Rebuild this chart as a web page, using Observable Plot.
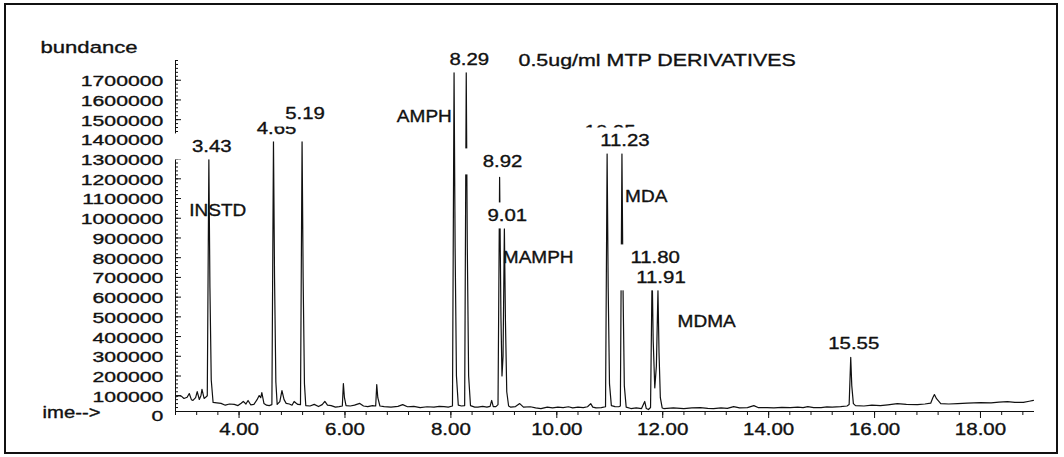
<!DOCTYPE html>
<html><head><meta charset="utf-8">
<script src="https://cdn.jsdelivr.net/npm/d3@7"></script>
<script src="https://cdn.jsdelivr.net/npm/@observablehq/plot@0.6"></script>
<style>
html,body{margin:0;padding:0;background:#fff;}
#chart{position:relative;width:1064px;height:457px;}
</style></head><body><div id="chart"></div>
<script>
// chromatogram trace: [retention time (min), abundance]
const trace = [
[2.82,95000],[2.86,101000],[2.91,98000],[2.96,86000],[3.02,92000],[3.06,111000],[3.10,80000],[3.13,76000],
[3.18,90000],[3.21,121000],[3.25,81000],[3.28,100000],[3.30,132000],[3.34,86000],[3.38,95000],[3.40,100000],
[3.43,1300000],[3.45,650000],[3.475,180000],[3.51,66000],[3.58,64000],[3.66,61000],[3.74,52000],[3.82,58000],
[3.91,56000],[3.98,50000],[4.04,62000],[4.08,71000],[4.13,58000],[4.17,76000],[4.22,54000],[4.28,56000],
[4.34,80000],[4.38,101000],[4.41,90000],[4.43,116000],[4.47,61000],[4.52,52000],[4.57,50000],[4.62,55000],
[4.65,1394000],[4.67,700000],[4.695,170000],[4.72,56000],[4.77,70000],[4.81,126000],[4.85,80000],[4.89,61000],
[4.95,58000],[5.00,52000],[5.04,71000],[5.08,62000],[5.11,56000],[5.16,55000],[5.19,1399000],[5.21,700000],
[5.235,160000],[5.26,50000],[5.34,48000],[5.42,56000],[5.50,45000],[5.57,55000],[5.62,71000],[5.67,52000],
[5.74,50000],[5.82,42000],[5.89,45000],[5.95,48000],[5.97,162000],[5.99,90000],[6.02,50000],[6.10,48000],
[6.18,52000],[6.28,61000],[6.35,48000],[6.43,45000],[6.52,50000],[6.58,48000],[6.60,157000],[6.62,90000],
[6.66,48000],[6.74,45000],[6.87,42000],[7.00,46000],[7.09,55000],[7.18,44000],[7.30,46000],[7.42,40000],
[7.55,44000],[7.68,42000],[7.78,46000],[7.87,45000],[7.95,42000],[8.03,48000],[8.06,1744000],[8.08,850000],
[8.105,200000],[8.14,52000],[8.20,48000],[8.26,50000],[8.29,1744000],[8.31,850000],[8.335,200000],[8.37,50000],
[8.45,42000],[8.51,42000],[8.60,46000],[8.68,42000],[8.74,46000],[8.77,76000],[8.80,45000],[8.85,45000],
[8.89,55000],[8.92,1207000],[8.945,500000],[8.965,200000],[8.985,300000],[9.01,948000],[9.03,480000],[9.055,120000],
[9.09,48000],[9.13,42000],[9.22,45000],[9.30,60000],[9.37,42000],[9.50,44000],[9.60,38000],[9.70,35000],
[9.82,42000],[9.92,38000],[10.02,42000],[10.12,40000],[10.22,44000],[10.30,38000],[10.40,42000],[10.50,40000],
[10.58,44000],[10.64,60000],[10.68,42000],[10.74,38000],[10.84,40000],[10.92,44000],[10.95,1328000],[10.97,650000],
[10.995,160000],[11.03,50000],[11.10,45000],[11.17,44000],[11.20,48000],[11.23,1328000],[11.25,650000],[11.275,150000],
[11.31,42000],[11.40,35000],[11.50,38000],[11.60,35000],[11.66,71000],[11.69,35000],[11.73,30000],[11.77,40000],
[11.80,735000],[11.82,380000],[11.85,140000],[11.88,250000],[11.91,634000],[11.93,320000],[11.955,90000],[11.99,38000],
[12.02,35000],[12.20,38000],[12.40,35000],[12.55,38000],[12.71,40000],[12.85,36000],[12.96,35000],[13.10,38000],
[13.22,36000],[13.34,45000],[13.45,38000],[13.60,40000],[13.72,50000],[13.80,40000],[13.97,40000],[14.10,38000],
[14.25,41000],[14.41,40000],[14.55,42000],[14.65,40000],[14.74,45000],[14.85,40000],[14.99,40000],[15.10,43000],
[15.20,42000],[15.36,45000],[15.48,48000],[15.52,55000],[15.55,294000],[15.57,150000],[15.60,60000],[15.64,50000],
[15.80,48000],[15.95,52000],[16.11,50000],[16.25,54000],[16.43,60000],[16.60,56000],[16.81,55000],[16.95,58000],
[17.06,62000],[17.10,90000],[17.13,106000],[17.17,85000],[17.25,60000],[17.40,58000],[17.57,60000],[17.75,62000],
[18.00,65000],[18.20,64000],[18.35,68000],[18.51,70000],[18.65,66000],[18.81,66000],[18.92,72000],[19.00,76000]
];

// retention-time labels and the abundance level at which each label sits
const peakLabels  = ["3.43","4.65","5.19","8.29","8.92","9.01","10.95","11.23","11.80","11.91","15.55"];
const labelLevels = [1364000,1455000,1531000,1805000,1288000,1014000,1442000,1394000,801000,700000,365000];

// compound names
const compoundNames = ["INSTD","AMPH","MAMPH","MDA","MDMA"];
const nameTimes     = [3.06, 6.98, 8.98, 11.29, 12.28];
const nameLevels    = [1037000, 1516000, 801000, 1110000, 476000];

// axis tick labels
const yTickLabels = [0,100000,200000,300000,400000,500000,600000,700000,800000,900000,1000000,1100000,1200000,1300000,1400000,1500000,1600000,1700000];
const xTickLabels = ["4.00","6.00","8.00","10.00","12.00","14.00","16.00","18.00"];

const titleText = "0.5ug/ml MTP DERIVATIVES";
const yLabelText = "bundance";
const xLabelText = "ime-->";

const xMin = 2.8, xMax = 19.02, yMin = 20000, yMax = 1800000;
const yMinor = d3.range(20000, 1800001, 20000);
const yMajor = yTickLabels.filter(v => v >= yMin);
const xMinor = d3.range(0, 41).map(i => 2.8 + i * 0.4).filter(v => v <= xMax);
const xMajor = xTickLabels.map(Number);

const peakRows = peakLabels.map((s, i) => ({label: s, t: +s, level: labelLevels[i]}));
const nameRows = compoundNames.map((s, i) => ({name: s, t: nameTimes[i], level: nameLevels[i]}));

const ink = "#111";
const bold = {fill: ink, stroke: ink, strokeWidth: 0.35};
// order of text marks matters for post-processing below
const textKeys = ["names", "ylabels", "xlabels", "ylab", "xlab", "title", "peaklabels"];
const plot = Plot.plot({
  width: 1064, height: 457,
  marginLeft: 175, marginRight: 30, marginTop: 60, marginBottom: 46,
  x: {domain: [xMin, xMax], axis: null},
  y: {domain: [yMin, yMax], axis: null},
  style: {fontFamily: "'Liberation Sans', Arial, sans-serif", background: "white", color: ink},
  marks: [
    Plot.ruleY([yMin], {stroke: ink}),
    Plot.ruleX([xMin], {stroke: ink}),
    Plot.ruleY(yMinor, {y: d => d, x1: xMin, x2: xMin, insetRight: -3, stroke: ink}),
    Plot.ruleY(yMajor, {y: d => d, x1: xMin, x2: xMin, insetRight: -6, stroke: ink}),
    Plot.ruleX(xMinor, {x: d => d, y1: yMin, y2: yMin, insetBottom: -4, stroke: ink}),
    Plot.ruleX(xMajor, {x: d => d, y1: yMin, y2: yMin, insetBottom: -7, stroke: ink}),
    Plot.line(trace, {x: d => d[0], y: d => d[1], stroke: ink, strokeWidth: 1.2}),
    Plot.text(nameRows, {x: "t", y: "level", text: "name", textAnchor: "start", fontSize: 17, ...bold, ariaDescription: "names"}),
    Plot.text(yTickLabels, {x: xMin, y: d => d, text: d => String(d), textAnchor: "end", dx: -12, dy: 1, fontSize: 15.5, ...bold, ariaDescription: "ylabels"}),
    Plot.text(xTickLabels, {x: d => +d, y: yMin, text: d => d, dy: 18.5, fontSize: 16, ...bold, ariaDescription: "xlabels"}),
    Plot.text([yLabelText], {text: d => d, frameAnchor: "top-left", textAnchor: "start", dx: -135, dy: -20, fontSize: 17, ...bold, ariaDescription: "ylab"}),
    Plot.text([xLabelText], {text: d => d, frameAnchor: "bottom-left", textAnchor: "start", dx: -133, dy: 6, fontSize: 16, ...bold, ariaDescription: "xlab"}),
    Plot.text([titleText], {text: d => d, frameAnchor: "top-left", textAnchor: "start", dx: 343, dy: -7, fontSize: 17, ...bold, ariaDescription: "title"}),
    Plot.text(peakRows, {x: "t", y: "level", text: "label", dx: 3, fontSize: 17, ...bold, ariaDescription: "peaklabels"})
  ]
});

document.getElementById("chart").appendChild(plot);

// horizontal stretch of the printed text, plus white label boxes
const stretch = {names: 1.12, ylabels: 1.37, xlabels: 1.28, ylab: 1.3, xlab: 1.27, title: 1.26, peaklabels: 1.2};
const NS = "http://www.w3.org/2000/svg";
const textGroups = Array.from(plot.querySelectorAll("g[aria-label='text']"));
function textsFor(key) {
  let g = plot.querySelector(`[aria-description="${key}"]`);
  if (!g) g = textGroups[textKeys.indexOf(key)];
  if (!g) return [];
  return g.tagName.toLowerCase() === "text" ? [g] : Array.from(g.querySelectorAll("text"));
}
for (const key of textKeys) {
  const s = stretch[key];
  for (const t of textsFor(key)) {
    const bb = t.getBBox();
    const anchor = getComputedStyle(t).getPropertyValue("text-anchor") || "start";
    const ax = anchor === "middle" ? bb.x + bb.width / 2 : anchor === "end" ? bb.x + bb.width : bb.x;
    const orig = t.getAttribute("transform") || "";
    t.setAttribute("transform", `${orig} translate(${ax},0) scale(${s},1) translate(${-ax},0)`);
    if (key === "peaklabels") {
      const w = bb.width * s + 36;
      const cy = bb.y + bb.height / 2;
      const r = document.createElementNS(NS, "rect");
      if (orig) r.setAttribute("transform", orig);
      r.setAttribute("x", ax - w / 2);
      r.setAttribute("y", cy - 13);
      r.setAttribute("width", w);
      r.setAttribute("height", 26);
      r.setAttribute("fill", "white");
      r.setAttribute("stroke", "none");
      t.parentNode.insertBefore(r, t);
    }
  }
}
// outer frame of the printout
const frame = document.createElementNS(NS, "rect");
frame.setAttribute("x", 5); frame.setAttribute("y", 4);
frame.setAttribute("width", 1052); frame.setAttribute("height", 449);
frame.setAttribute("fill", "none"); frame.setAttribute("stroke", "#111"); frame.setAttribute("stroke-width", 2);
plot.appendChild(frame);
</script>
</body></html>
